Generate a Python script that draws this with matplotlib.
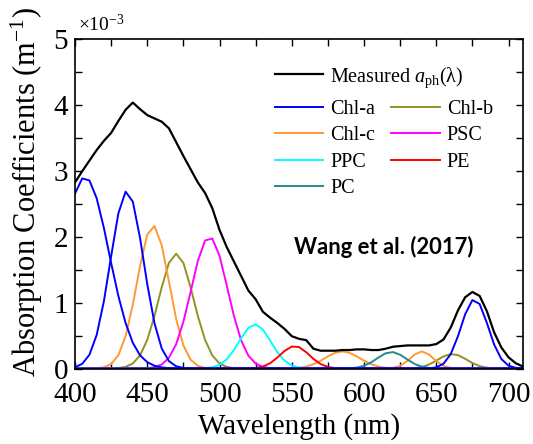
import numpy as np
import matplotlib.pyplot as plt

# wavelength grid (nm), 5 nm steps
wl = np.arange(400, 711, 5)

# measured a_ph(lambda), in units of 1e-3 m^-1
measured = [
    2.82, 2.99, 3.15, 3.31, 3.45, 3.57, 3.75, 3.92, 4.03, 3.93,
    3.84, 3.79, 3.74, 3.64, 3.43, 3.22, 3.02, 2.82, 2.66, 2.43,
    2.10, 1.84, 1.62, 1.40, 1.18, 1.05, 0.86, 0.77, 0.69, 0.60,
    0.49, 0.45, 0.43, 0.30, 0.27, 0.27, 0.27, 0.28, 0.28, 0.29,
    0.29, 0.28, 0.28, 0.30, 0.33, 0.34, 0.35, 0.35, 0.35, 0.35,
    0.37, 0.44, 0.62, 0.88, 1.08, 1.16, 1.10, 0.87, 0.55, 0.32,
    0.17, 0.08, 0.03,
]

# fitted pigment bands: (first wavelength, values every 5 nm), 1e-3 m^-1
chla_bands = [
    (400, [2.65, 2.88, 2.85, 2.58, 2.13, 1.60, 1.10, 0.69, 0.39, 0.20,
           0.097, 0.042, 0.017, 0.006, 0.002]),
    (400, [0.020, 0.071, 0.209, 0.508, 1.02, 1.70, 2.35, 2.68, 2.53, 1.98,
           1.28, 0.687, 0.305, 0.112, 0.034, 0.009, 0.002]),
    (645, [0.003, 0.018, 0.073, 0.218, 0.489, 0.823, 1.037, 0.978, 0.692,
           0.366, 0.145, 0.043, 0.010, 0.002]),
]
chlb_bands = [
    (425, [0.002, 0.007, 0.025, 0.076, 0.199, 0.434, 0.797, 1.23, 1.60, 1.74,
           1.60, 1.23, 0.797, 0.434, 0.199, 0.076, 0.025, 0.007, 0.002]),
    (630, [0.002, 0.007, 0.024, 0.061, 0.120, 0.184, 0.219, 0.203, 0.147,
           0.083, 0.036, 0.012, 0.003, 0.001]),
]
chlc_bands = [
    (415, [0.004, 0.018, 0.067, 0.201, 0.488, 0.965, 1.55, 2.03, 2.16, 1.87,
           1.32, 0.753, 0.351, 0.133, 0.041, 0.010, 0.002]),
    (545, [0.001, 0.004, 0.011, 0.030, 0.065, 0.119, 0.184, 0.238, 0.260,
           0.238, 0.184, 0.119, 0.065, 0.030, 0.011, 0.004, 0.001]),
    (615, [0.002, 0.010, 0.041, 0.114, 0.212, 0.260, 0.212, 0.114, 0.041,
           0.010, 0.002]),
]
psc_bands = [
    (450, [0.005, 0.020, 0.061, 0.163, 0.368, 0.709, 1.16, 1.63, 1.94, 1.97,
           1.71, 1.26, 0.793, 0.425, 0.194, 0.075, 0.025, 0.007, 0.002]),
]
ppc_bands = [
    (485, [0.001, 0.005, 0.018, 0.056, 0.139, 0.281, 0.461, 0.616, 0.669,
           0.591, 0.425, 0.248, 0.118, 0.046, 0.014, 0.004, 0.001]),
]
pe_bands = [
    (520, [0.002, 0.009, 0.030, 0.080, 0.166, 0.266, 0.333, 0.325, 0.247,
           0.146, 0.067, 0.024, 0.007, 0.001]),
]
pc_bands = [
    (585, [0.001, 0.004, 0.014, 0.041, 0.094, 0.167, 0.231, 0.249, 0.209,
           0.137, 0.070, 0.028, 0.009, 0.002]),
]


def on_grid(start, vals):
    full = np.zeros(len(wl))
    i = (start - wl[0]) // 5
    full[i : i + len(vals)] = vals
    return full


plt.rcParams["font.family"] = "Liberation Serif"
plt.rcParams["mathtext.fontset"] = "custom"
plt.rcParams["mathtext.rm"] = "Liberation Serif"
plt.rcParams["mathtext.it"] = "Liberation Serif:italic"

fig = plt.figure(figsize=(5.33, 4.44), dpi=100)
ax = fig.add_axes([0.1407, 0.170, 0.8405, 0.7432])

# drawing order: chl-a last so its zero baseline sits on top
pigments = [
    ("Chl-b", "#929222", chlb_bands),
    ("Chl-c", "#ff9933", chlc_bands),
    ("PSC", "#ff00ff", psc_bands),
    ("PPC", "#00ffff", ppc_bands),
    ("PE", "#ff0000", pe_bands),
    ("PC", "#218c8c", pc_bands),
    ("Chl-a", "#0000ff", chla_bands),
]
handles = {}
for name, color, bands in pigments:
    for start, vals in bands:
        (line,) = ax.plot(wl, on_grid(start, vals), color=color, lw=1.4)
    handles[name] = line

(h_meas,) = ax.plot(wl, measured, color="k", lw=1.6)

ax.set_xlim(400, 710)
ax.set_ylim(0, 5)
ax.set_xticks(range(400, 701, 50))
ax.set_xticks(range(425, 710, 50), minor=True)
ax.set_yticks(range(0, 6))
ax.set_yticks(np.arange(0.5, 5, 1.0), minor=True)
ax.tick_params(which="both", direction="in", top=True, right=True,
               length=5, width=1.0)
ax.tick_params(which="major", labelsize=21)
ax.tick_params(axis="x", which="major", pad=10)
ax.tick_params(axis="y", which="major", pad=5)
for sp in ax.spines.values():
    sp.set_linewidth(1.2)

ax.set_xlabel("Wavelength (nm)", fontsize=21)
ax.xaxis.set_label_coords(0.5, -0.135)
ax.set_ylabel("Absorption Coefficients (m$^{-1}$)", fontsize=22)
ax.yaxis.set_label_coords(-0.068, 0.535)

fig.text(78 / 533, 1 - 31 / 444, r"$\times$10$^{-3}$", fontsize=14,
         ha="left", va="baseline")

leg1 = ax.legend([h_meas], ["Measured $a_{\\rm ph}$(λ)"],
                 loc="upper left", bbox_to_anchor=(275 / 533, 1 - 65 / 444),
                 bbox_transform=fig.transFigure, frameon=False, fontsize=14.5,
                 handlelength=2.4, handletextpad=0.35, borderpad=0,
                 borderaxespad=0)
ax.add_artist(leg1)
order = ["Chl-a", "Chl-c", "PPC", "PC", "Chl-b", "PSC", "PE"]
ax.legend([handles[n] for n in order], order, ncol=2,
          loc="upper left", bbox_to_anchor=(275 / 533, 1 - 100 / 444),
          bbox_transform=fig.transFigure, frameon=False, fontsize=14.5,
          handlelength=2.4, handletextpad=0.35, borderpad=0,
          borderaxespad=0, labelspacing=0.36, columnspacing=0.8)

fig.text(384 / 533, 1 - 247 / 444, "Wang et al. (2017)", fontsize=15.8,
         fontweight="bold", family="Lato", ha="center", va="center")

fig.savefig("out.png", dpi=100)
